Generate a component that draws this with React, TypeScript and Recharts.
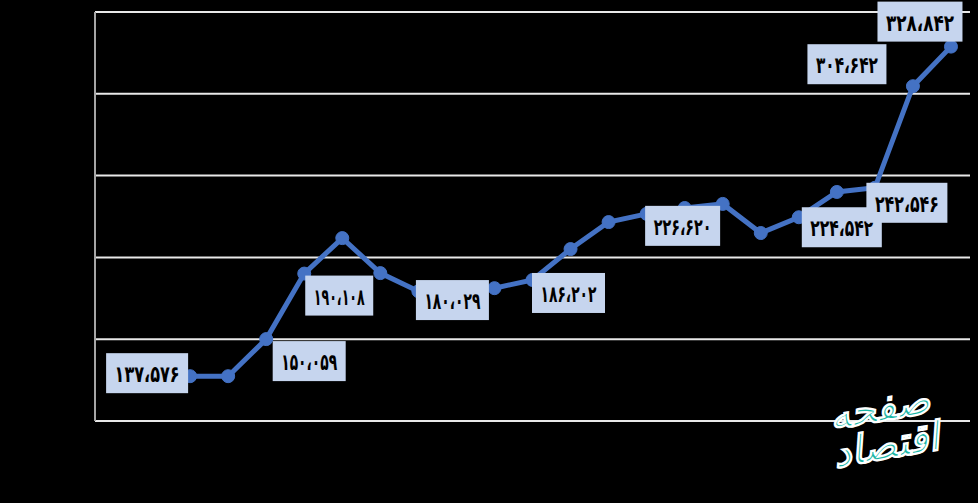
import { LineChart, Line, XAxis, YAxis, CartesianGrid } from "recharts";

// slots on the x axis (first two are empty in the original)
const slots = [0, 1, 2, 3, 4, 5, 6, 7, 8, 9, 10, 11, 12, 13, 14, 15, 16, 17, 18, 19, 20, 21, 22];

const values = [
  null, null, 127.4, 127.4, 150.059, 190.108, 211.8, 190.4, 179.3, 180.029,
  181.2, 186.202, 205.1, 221.6, 226.62, 230.2, 232.7, 214.9, 224.542, 240.0,
  242.546, 304.642, 328.842,
];

const labels = [
  null, null, "۱۳۷،۵۷۶", null, "۱۵۰،۰۵۹", "۱۹۰،۱۰۸", null, null, null, "۱۸۰،۰۲۹",
  null, "۱۸۶،۲۰۲", null, null, "۲۲۶،۶۲۰", null, null, null, "۲۲۴،۵۴۲", null,
  "۲۴۲،۵۴۶", "۳۰۴،۶۴۲", "۳۲۸،۸۴۲",
];

const yTicks = [100, 150, 200, 250, 300, 350];

const data = slots.map((i, k) => ({ i, value: values[k] }));

// where each label box sits relative to its point
const boxPlace: Record<number, { dx: number; dy: number; w: number }> = {
  2: { dx: -43, dy: -3, w: 82 },
  4: { dx: 43, dy: 22, w: 73 },
  5: { dx: 35, dy: 22, w: 68 },
  9: { dx: -4, dy: 10, w: 73 },
  11: { dx: 36, dy: 13, w: 73 },
  14: { dx: 36, dy: 12, w: 75 },
  18: { dx: 43, dy: 10, w: 80 },
  20: { dx: 32, dy: 15, w: 81 },
  21: { dx: -66, dy: -22, w: 79 },
  22: { dx: -31, dy: -25, w: 85 },
};

function ValueBox(props: any) {
  const { x, y, index } = props;
  const text = labels[index];
  const p = boxPlace[index];
  if (!text || !p || x == null || y == null) return null;
  const cx = x + p.dx;
  const cy = y + p.dy;
  return (
    <g>
      <rect x={cx - p.w / 2} y={cy - 20} width={p.w} height={40} fill="#C6D5EE" />
      <text
        x={cx}
        y={cy + 1}
        textAnchor="middle"
        dominantBaseline="central"
        fontFamily="DejaVu Sans"
        fontWeight="bold"
        fontSize={23}
        fill="#000"
        textLength={p.w - 17}
        lengthAdjust="spacingAndGlyphs"
      >
        {text}
      </text>
    </g>
  );
}

export default function App() {
  return (
    <div
      style={{
        position: "fixed",
        left: 0,
        top: 0,
        width: 978,
        height: 503,
        background: "#000",
      }}
    >
      <LineChart
        width={978}
        height={503}
        data={data}
        margin={{ top: 12, right: 8, left: 75, bottom: 82 }}
      >
        <CartesianGrid vertical={false} stroke="#E8E8E8" strokeWidth={2} />
        <XAxis type="number" dataKey="i" domain={[-0.5, 22.5]} hide />
        <YAxis
          domain={[100, 350]}
          ticks={yTicks}
          interval={0}
          width={20}
          tick={{ fill: "#000", fontSize: 10 }}
          tickLine={false}
          axisLine={{ stroke: "#A6A6A6", strokeWidth: 2 }}
        />
        <Line
          dataKey="value"
          stroke="#4472C4"
          strokeWidth={5}
          dot={{ r: 6.5, fill: "#4472C4", stroke: "#4472C4", strokeWidth: 1 }}
          isAnimationActive={false}
          label={(p: any) => <ValueBox {...p} />}
        />
      </LineChart>
      <div
        style={{
          position: "absolute",
          left: 795,
          top: 388,
          width: 175,
          fontFamily: "DejaVu Sans",
          fontWeight: "bold",
          fontStyle: "italic",
          fontSize: 40,
          color: "#1DB5A5",
          WebkitTextStroke: "1px #ffffff",
          direction: "rtl",
          lineHeight: 0.95,
          textAlign: "center",
          transform: "rotate(-10deg)",
        }}
      >
        صفحه اقتصاد
      </div>
    </div>
  );
}
